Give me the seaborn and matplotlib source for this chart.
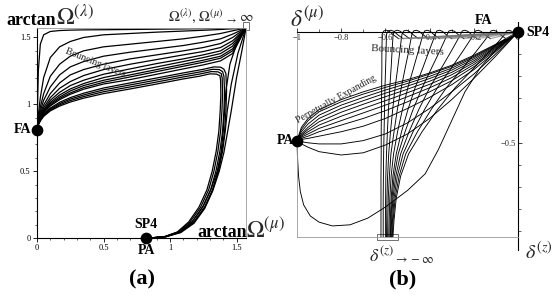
import numpy as np
import pandas as pd
import seaborn as sns
import matplotlib.pyplot as plt
from matplotlib.patches import Rectangle

# ---------------- panel (a) : arctan Omega(mu) vs arctan Omega(lambda) ----------------
CORNER = 1.571
fa_a = [0.0, 0.81]
pa_a = [0.82, 0.0]

a_x = [0, 0.01, 0.025, 0.05, 0.1, 0.17, 0.25, 0.35, 0.5, 0.7, 0.9, 1.1, 1.25, 1.38, 1.47, 1.571]
# curves from FA that run off to the corner (Omega -> infinity)
a_fan = [
    [0.81, 1.25, 1.45, 1.52, 1.545, 1.552, 1.555, 1.557, 1.558, 1.56, 1.562, 1.564, 1.566, 1.568, 1.569, 1.571],
    [0.81, 0.92, 1.05, 1.20, 1.35, 1.43, 1.47, 1.50, 1.52, 1.53, 1.54, 1.548, 1.554, 1.56, 1.565, 1.571],
    [0.81, 0.89, 0.98, 1.08, 1.21, 1.30, 1.36, 1.40, 1.43, 1.45, 1.47, 1.49, 1.51, 1.53, 1.55, 1.571],
    [0.81, 0.88, 0.95, 1.03, 1.13, 1.22, 1.28, 1.32, 1.36, 1.39, 1.415, 1.44, 1.465, 1.49, 1.525, 1.571],
    [0.81, 0.875, 0.93, 0.995, 1.08, 1.16, 1.22, 1.26, 1.30, 1.34, 1.37, 1.40, 1.425, 1.455, 1.50, 1.571],
    [0.81, 0.87, 0.92, 0.975, 1.05, 1.12, 1.17, 1.215, 1.26, 1.30, 1.335, 1.37, 1.395, 1.425, 1.475, 1.571],
    [0.81, 0.865, 0.91, 0.96, 1.03, 1.09, 1.14, 1.18, 1.225, 1.265, 1.305, 1.34, 1.37, 1.40, 1.455, 1.571],
    [0.81, 0.86, 0.905, 0.95, 1.015, 1.07, 1.115, 1.155, 1.20, 1.24, 1.28, 1.32, 1.35, 1.38, 1.435, 1.571],
    [0.81, 0.858, 0.90, 0.945, 1.005, 1.055, 1.10, 1.14, 1.18, 1.22, 1.26, 1.30, 1.33, 1.36, 1.415, 1.571],
    [0.81, 0.856, 0.895, 0.94, 0.995, 1.045, 1.085, 1.125, 1.165, 1.205, 1.245, 1.285, 1.315, 1.345, 1.40, 1.571],
    [0.81, 0.854, 0.892, 0.935, 0.988, 1.035, 1.075, 1.113, 1.152, 1.185, 1.225, 1.265, 1.295, 1.325, 1.38, 1.571],
]
# bottom bundle: leaves FA, turns at the upper right and falls back to PA
a_turn_x = [
    [0, 0.01, 0.025, 0.05, 0.1, 0.17, 0.25, 0.35, 0.5, 0.7, 0.9, 1.1,
     1.25, 1.33, 1.38, 1.405, 1.42, 1.425, 1.42, 1.41, 1.39, 1.36, 1.32, 1.26, 1.18, 1.08, 0.97, 0.85],
    [0, 0.01, 0.025, 0.05, 0.1, 0.17, 0.25, 0.35, 0.5, 0.7, 0.9, 1.1,
     1.24, 1.32, 1.37, 1.395, 1.405, 1.41, 1.405, 1.395, 1.375, 1.345, 1.305, 1.245, 1.165, 1.07, 0.965, 0.85],
    [0, 0.01, 0.025, 0.05, 0.1, 0.17, 0.25, 0.35, 0.5, 0.7, 0.9, 1.1,
     1.23, 1.31, 1.36, 1.385, 1.392, 1.395, 1.39, 1.38, 1.36, 1.33, 1.29, 1.23, 1.15, 1.06, 0.96, 0.85],
    [0, 0.01, 0.025, 0.05, 0.1, 0.17, 0.25, 0.35, 0.5, 0.7, 0.9, 1.1,
     1.22, 1.30, 1.35, 1.375, 1.38, 1.382, 1.377, 1.367, 1.347, 1.317, 1.277, 1.217, 1.14, 1.055, 0.958, 0.85],
]
a_turn_y = [
    [0.81, 0.85, 0.885, 0.925, 0.972, 1.015, 1.05, 1.083, 1.122, 1.16, 1.197, 1.235,
     1.262, 1.28, 1.278, 1.263, 1.23, 1.1, 0.95, 0.8, 0.65, 0.5, 0.36, 0.23, 0.12, 0.045, 0.01, 0.0],
    [0.81, 0.849, 0.882, 0.92, 0.965, 1.005, 1.039, 1.07, 1.108, 1.145, 1.182, 1.22,
     1.245, 1.262, 1.26, 1.245, 1.21, 1.09, 0.95, 0.8, 0.65, 0.5, 0.36, 0.23, 0.12, 0.045, 0.01, 0.0],
    [0.81, 0.848, 0.879, 0.915, 0.958, 0.996, 1.028, 1.058, 1.094, 1.13, 1.167, 1.205,
     1.228, 1.245, 1.243, 1.23, 1.195, 1.08, 0.95, 0.8, 0.65, 0.5, 0.36, 0.23, 0.12, 0.045, 0.01, 0.0],
    [0.81, 0.847, 0.876, 0.91, 0.951, 0.987, 1.017, 1.046, 1.08, 1.115, 1.152, 1.19,
     1.21, 1.228, 1.226, 1.214, 1.18, 1.07, 0.95, 0.8, 0.65, 0.5, 0.36, 0.23, 0.12, 0.045, 0.01, 0.0],
]
# curves leaving PA and going straight up to the corner
a_rise_x = [
    [0.85, 0.97, 1.08, 1.18, 1.26, 1.32, 1.37, 1.405, 1.43, 1.46, 1.50, 1.54, 1.571],
    [0.85, 0.97, 1.08, 1.18, 1.26, 1.32, 1.365, 1.395, 1.415, 1.43, 1.46, 1.51, 1.571],
    [0.85, 0.97, 1.08, 1.17, 1.25, 1.31, 1.355, 1.385, 1.40, 1.41, 1.42, 1.45, 1.50, 1.571],
]
a_rise_y = [
    [0, 0.01, 0.04, 0.11, 0.22, 0.35, 0.5, 0.64, 0.78, 0.95, 1.2, 1.4, 1.571],
    [0, 0.01, 0.045, 0.12, 0.23, 0.36, 0.5, 0.65, 0.8, 0.95, 1.15, 1.38, 1.571],
    [0, 0.012, 0.05, 0.125, 0.24, 0.37, 0.5, 0.65, 0.8, 0.95, 1.1, 1.3, 1.45, 1.571],
]

# ---------------- panel (b) : delta(mu) vs delta(z) ----------------
pa_b = [-1.0, -0.49]
sp4_b = [0.0, 0.0]

b_x = [-1, -0.98, -0.95, -0.9, -0.8, -0.7, -0.6, -0.5, -0.4, -0.3, -0.2, -0.1, 0]
# perpetually expanding: PA -> SP4
b_fan = [
    [-0.49, -0.43, -0.39, -0.35, -0.305, -0.27, -0.24, -0.215, -0.185, -0.15, -0.105, -0.055, 0],
    [-0.49, -0.44, -0.40, -0.36, -0.315, -0.28, -0.25, -0.222, -0.19, -0.155, -0.11, -0.058, 0],
    [-0.49, -0.45, -0.415, -0.375, -0.33, -0.295, -0.262, -0.232, -0.2, -0.163, -0.115, -0.06, 0],
    [-0.49, -0.46, -0.43, -0.39, -0.345, -0.31, -0.276, -0.244, -0.21, -0.172, -0.122, -0.064, 0],
    [-0.49, -0.465, -0.44, -0.405, -0.362, -0.326, -0.292, -0.258, -0.222, -0.182, -0.13, -0.068, 0],
    [-0.49, -0.47, -0.45, -0.42, -0.38, -0.345, -0.31, -0.274, -0.236, -0.193, -0.138, -0.072, 0],
    [-0.49, -0.475, -0.46, -0.435, -0.40, -0.365, -0.33, -0.292, -0.252, -0.206, -0.147, -0.077, 0],
    [-0.49, -0.48, -0.47, -0.45, -0.42, -0.39, -0.355, -0.315, -0.27, -0.22, -0.157, -0.082, 0],
    [-0.49, -0.485, -0.48, -0.47, -0.45, -0.425, -0.39, -0.345, -0.295, -0.238, -0.17, -0.088, 0],
    [-0.49, -0.495, -0.50, -0.505, -0.505, -0.49, -0.46, -0.41, -0.345, -0.27, -0.19, -0.098, 0],
    [-0.49, -0.505, -0.52, -0.54, -0.555, -0.545, -0.51, -0.46, -0.39, -0.305, -0.21, -0.108, 0],
]
b_deep_x = [-1, -0.998, -0.993, -0.985, -0.97, -0.94, -0.9, -0.84, -0.76, -0.68, -0.6,
            -0.5, -0.42, -0.36, -0.3, -0.24, -0.17, -0.09, 0]
b_deep_y = [-0.49, -0.56, -0.65, -0.72, -0.78, -0.83, -0.858, -0.875, -0.87, -0.84, -0.79,
            -0.715, -0.64, -0.53, -0.4, -0.27, -0.16, -0.07, 0]

# bouncing layers: from delta(z) -> -inf up to the top, hook, then along FA to SP4
b_levels = [-0.01, -0.04, -0.09, -0.16, -0.25, -0.35, -0.45, -0.55, -0.65, -0.75, -0.85, -0.925]
b_bounce = [
    [-0.615, -0.615, -0.616, -0.616, -0.617, -0.618, -0.619, -0.619, -0.62, -0.62, -0.62, -0.62],
    [-0.595, -0.596, -0.597, -0.599, -0.602, -0.604, -0.606, -0.608, -0.609, -0.61, -0.61, -0.61],
    [-0.565, -0.567, -0.57, -0.574, -0.58, -0.586, -0.591, -0.595, -0.598, -0.599, -0.6, -0.6],
    [-0.525, -0.529, -0.535, -0.544, -0.556, -0.567, -0.577, -0.585, -0.59, -0.593, -0.594, -0.595],
    [-0.48, -0.486, -0.495, -0.51, -0.528, -0.546, -0.561, -0.575, -0.582, -0.587, -0.589, -0.59],
    [-0.43, -0.438, -0.452, -0.472, -0.498, -0.523, -0.545, -0.563, -0.574, -0.58, -0.583, -0.585],
    [-0.375, -0.385, -0.404, -0.43, -0.465, -0.498, -0.527, -0.551, -0.566, -0.574, -0.578, -0.58],
    [-0.32, -0.333, -0.356, -0.39, -0.433, -0.475, -0.511, -0.542, -0.56, -0.57, -0.575, -0.578],
    [-0.26, -0.276, -0.304, -0.345, -0.399, -0.449, -0.493, -0.531, -0.553, -0.566, -0.572, -0.575],
    [-0.2, -0.219, -0.252, -0.3, -0.364, -0.423, -0.475, -0.52, -0.546, -0.561, -0.568, -0.572],
    [-0.13, -0.152, -0.191, -0.248, -0.323, -0.393, -0.455, -0.508, -0.538, -0.556, -0.565, -0.569],
    [-0.06, -0.085, -0.131, -0.197, -0.283, -0.364, -0.434, -0.495, -0.531, -0.551, -0.561, -0.566],
]
b_hook_y = [0.005, 0.008, 0.003, -0.012, -0.03]
b_hook_x = [
    [-0.607, -0.595, -0.582, -0.565, -0.54],
    [-0.587, -0.575, -0.562, -0.545, -0.52],
    [-0.557, -0.545, -0.532, -0.515, -0.49],
    [-0.517, -0.505, -0.492, -0.475, -0.45],
    [-0.472, -0.46, -0.447, -0.43, -0.405],
    [-0.422, -0.41, -0.397, -0.38, -0.355],
    [-0.367, -0.355, -0.342, -0.325, -0.3],
    [-0.312, -0.3, -0.287, -0.27, -0.245],
    [-0.252, -0.24, -0.227, -0.21, -0.185],
    [-0.192, -0.18, -0.167, -0.15, -0.125],
    [-0.122, -0.11, -0.097, -0.08, -0.055],
    [-0.052, -0.04, -0.028, -0.016, -0.006],
]

# ---------------- build long tables ----------------
rows_a = []
for i, ys in enumerate(a_fan):
    rows_a += [("fan%d" % i, x, y) for x, y in zip(a_x, ys)]
for i in range(len(a_turn_x)):
    rows_a += [("turn%d" % i, x, y) for x, y in zip(a_turn_x[i], a_turn_y[i])]
for i in range(len(a_rise_x)):
    rows_a += [("rise%d" % i, x, y) for x, y in zip(a_rise_x[i], a_rise_y[i])]
df_a = pd.DataFrame(rows_a, columns=["curve", "x", "y"])

rows_b = []
for i, ys in enumerate(b_fan):
    rows_b += [("fan%d" % i, x, y) for x, y in zip(b_x, ys)]
rows_b += [("deep", x, y) for x, y in zip(b_deep_x, b_deep_y)]
tails = []
for i, xs in enumerate(b_bounce):
    path = list(zip(xs, b_levels))[::-1] + list(zip(b_hook_x[i], b_hook_y))
    rows_b += [("bounce%d" % i, x, y) for x, y in path]
    tails += [("tail%d" % i, b_hook_x[i][-1], b_hook_y[-1]), ("tail%d" % i, sp4_b[0], sp4_b[1])]
df_b = pd.DataFrame(rows_b, columns=["curve", "x", "y"])
df_tail = pd.DataFrame(tails, columns=["curve", "x", "y"])

# ---------------- drawing ----------------
sns.set_theme(style="white")
plt.rcParams["font.family"] = ["Liberation Serif", "DejaVu Serif"]
plt.rcParams["mathtext.fontset"] = "stix"

W, H = 554, 298
fig = plt.figure(figsize=(W / 100, H / 100), dpi=100)
fig.patch.set_facecolor("white")


def fpos(x, y):
    return x / W, 1 - y / H


# panel (a)
ax = fig.add_axes([37 / W, 60 / H, 209 / W, 210 / H])
sns.lineplot(data=df_a, x="x", y="y", units="curve", estimator=None, sort=False,
             color="black", lw=0.9, ax=ax, legend=False)
ax.set_xlim(0, CORNER)
ax.set_ylim(0, CORNER)
ax.set_xlabel("")
ax.set_ylabel("")
ax.set_xticks([0, 0.5, 1, 1.5])
ax.set_xticklabels(["0", "0.5", "1", "1.5"])
ax.set_yticks([0, 0.5, 1, 1.5])
ax.set_yticklabels(["0", "0.5", "1", "1.5"])
ax.set_xticks(np.arange(0.1, 1.55, 0.1), minor=True)
ax.set_yticks(np.arange(0.1, 1.55, 0.1), minor=True)
ax.tick_params(which="major", direction="out", length=3, width=0.6, labelsize=6, pad=1.5,
               left=True, bottom=True, colors="black")
ax.tick_params(which="minor", direction="out", length=1.5, width=0.5, left=True, bottom=True)
for s in ["left", "bottom"]:
    ax.spines[s].set_color("black")
    ax.spines[s].set_linewidth(0.8)
for s in ["top", "right"]:
    ax.spines[s].set_color("0.6")
    ax.spines[s].set_linewidth(0.6)
ax.scatter([fa_a[0], pa_a[0]], [fa_a[1], pa_a[1]], s=55, color="black", zorder=6, clip_on=False)
ax.add_patch(Rectangle((1.545, 1.555), 0.045, 0.06, fill=False, lw=0.6, ec="0.35", clip_on=False))
ax.text(0.44, 1.31, "Bouncing layers", rotation=-22, ha="center", va="center", fontsize=7)

# panel (b)
bx = fig.add_axes([297 / W, 61 / H, 221 / W, 205 / H])
sns.lineplot(data=df_b, x="x", y="y", units="curve", estimator=None, sort=False,
             color="black", lw=0.65, ax=bx, legend=False)
sns.lineplot(data=df_tail, x="x", y="y", units="curve", estimator=None, sort=False,
             color="0.45", lw=0.9, alpha=0.6, ax=bx, legend=False)
for ln in bx.lines:
    ln.set_clip_on(False)
bx.set_xlim(-1, 0)
bx.set_ylim(-0.925, 0)
bx.set_xlabel("")
bx.set_ylabel("")
bx.spines["left"].set_position(("data", 0))
bx.spines["bottom"].set_position(("data", 0))
bx.spines["right"].set_position(("data", -1))
bx.spines["top"].set_position(("data", -0.925))
bx.spines["left"].set_bounds(-0.985, 0.045)
for s in ["left", "bottom"]:
    bx.spines[s].set_color("black")
    bx.spines[s].set_linewidth(0.8)
for s in ["top", "right"]:
    bx.spines[s].set_color("0.6")
    bx.spines[s].set_linewidth(0.6)
bx.xaxis.set_ticks_position("bottom")
bx.yaxis.set_ticks_position("left")
bx.set_xticks([-1, -0.8, -0.6, -0.4, -0.2, 0])
bx.set_xticklabels(["\u22121", "\u22120.8", "\u22120.6", "\u22120.4", "\u22120.2", "0"])
bx.set_yticks([-0.5])
bx.set_yticklabels(["\u22120.5"])
bx.set_xticks(np.arange(-0.9, 0, 0.1), minor=True)
bx.set_yticks(np.arange(-0.9, 0, 0.1), minor=True)
bx.tick_params(which="major", direction="in", length=3, width=0.6, labelsize=6, pad=1.5,
               left=True, bottom=True)
bx.tick_params(which="minor", direction="in", length=2, width=0.5, left=True, bottom=True)
bx.scatter([pa_b[0], sp4_b[0]], [pa_b[1], sp4_b[1]], s=55, color="black", zorder=6, clip_on=False)
bx.add_patch(Rectangle((-0.64, -0.94), 0.095, 0.03, fill=False, lw=0.6, ec="0.35", clip_on=False))
bx.text(-0.5, -0.085, "Bouncing layers", rotation=-3, ha="center", va="center", fontsize=8)
bx.text(-0.825, -0.305, "Perpetually Expanding", rotation=29, ha="center", va="center", fontsize=7)

# labels around the panels
bold = dict(fontweight="bold", color="black")
fig.text(*fpos(6, 25), "arctan", ha="left", va="baseline", fontsize=13, **bold)
fig.text(*fpos(56, 25), r"$\Omega^{(\lambda)}$", ha="left", va="baseline", fontsize=17)
fig.text(*fpos(168, 22), r"$\Omega^{(\lambda)},\,\Omega^{(\mu)}\,{}_{\rightarrow}\,\infty$",
         ha="left", va="baseline", fontsize=10.5)
fig.text(*fpos(197, 237), "arctan", ha="left", va="baseline", fontsize=13, **bold)
fig.text(*fpos(246, 238), r"$\Omega^{(\mu)}$", ha="left", va="baseline", fontsize=17)
fig.text(*fpos(31, 130), "FA", ha="right", va="center", fontsize=10, **bold)
fig.text(*fpos(146, 224), "SP4", ha="center", va="center", fontsize=10, **bold)
fig.text(*fpos(146, 250), "PA", ha="center", va="center", fontsize=10, **bold)
fig.text(*fpos(142, 279), "(a)", ha="center", va="center", fontsize=16, **bold)

fig.text(*fpos(290, 27), r"$\delta^{(\mu)}$", ha="left", va="baseline", fontsize=17)
fig.text(*fpos(484, 21), "FA", ha="center", va="center", fontsize=10, **bold)
fig.text(*fpos(526, 32), "SP4", ha="left", va="center", fontsize=10, **bold)
fig.text(*fpos(294, 140), "PA", ha="right", va="center", fontsize=10, **bold)
fig.text(*fpos(369, 262), r"$\delta^{(z)}{}_{\rightarrow -\infty}$", ha="left", va="baseline", fontsize=13)
fig.text(*fpos(525, 259), r"$\delta^{(z)}$", ha="left", va="baseline", fontsize=14.5)
fig.text(*fpos(403, 279), "(b)", ha="center", va="center", fontsize=16, **bold)

fig.savefig("out.png", dpi=100, facecolor="white")
